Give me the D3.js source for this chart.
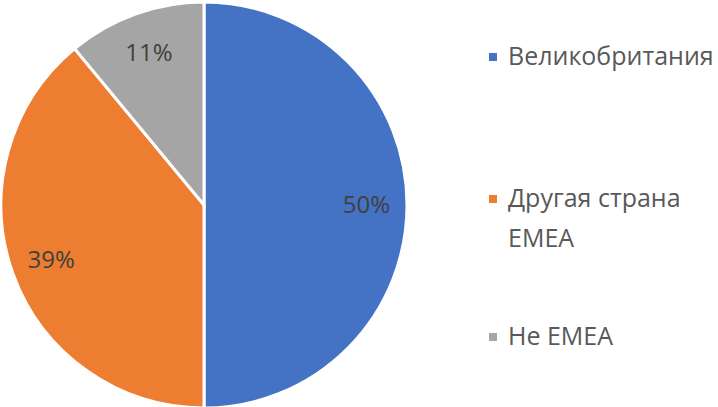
<!DOCTYPE html>
<html>
<head>
<meta charset="utf-8">
<script src="https://cdn.jsdelivr.net/npm/d3@7"></script>
<style>
  html, body { margin: 0; padding: 0; background: #fff; }
  svg { display: block; }
</style>
</head>
<body>
<svg id="chart"></svg>
<script>
var categories = ["Великобритания", "Другая страна EMEA", "Не EMEA"];
var legendLines = [["Великобритания"], ["Другая страна", "EMEA"], ["Не EMEA"]];
var values = [50, 39, 11];
var colors = ["#4472C4", "#ED7D31", "#A5A5A5"];

var width = 718, height = 407;
var svg = d3.select("#chart")
    .attr("width", width)
    .attr("height", height);

var radius = 203;
var g = svg.append("g")
    .attr("transform", "translate(204,205)");

var color = d3.scaleOrdinal()
    .domain(categories)
    .range(colors);

var pie = d3.pie()
    .sort(null)
    .value(d => d.value);

var data = categories.map((c, i) => ({ name: c, value: values[i] }));
var arcs = pie(data);

var arc = d3.arc()
    .innerRadius(0)
    .outerRadius(radius);

var labelArc = d3.arc()
    .innerRadius(radius * 0.8)
    .outerRadius(radius * 0.8);

g.selectAll("path")
    .data(arcs)
    .enter().append("path")
    .attr("d", arc)
    .attr("fill", d => color(d.data.name))
    .attr("stroke", "white")
    .attr("stroke-width", 3);

var total = d3.sum(values);
g.selectAll("text")
    .data(arcs)
    .enter().append("text")
    .attr("transform", d => `translate(${labelArc.centroid(d)})`)
    .attr("text-anchor", "middle")
    .attr("dy", "0.35em")
    .attr("font-family", "Open Sans, sans-serif")
    .attr("font-size", "24px")
    .attr("fill", "#404040")
    .text(d => Math.round(d.data.value / total * 100) + "%");

// legend
var legendY = d3.scaleOrdinal()
    .domain(categories)
    .range([57, 199, 337]);

var legend = svg.append("g");
var items = legend.selectAll("g")
    .data(categories)
    .enter().append("g")
    .attr("transform", d => `translate(489,${legendY(d)})`);

items.append("rect")
    .attr("x", 0)
    .attr("y", -4)
    .attr("width", 8)
    .attr("height", 8)
    .attr("fill", d => color(d));

items.append("text")
    .attr("x", 19)
    .attr("y", 0)
    .attr("font-family", "Open Sans, sans-serif")
    .attr("font-size", "25px")
    .attr("fill", "#595959")
    .selectAll("tspan")
    .data((d, i) => legendLines[i])
    .enter().append("tspan")
    .attr("x", 19)
    .attr("dy", (d, i) => i === 0 ? "0.3em" : "40px")
    .text(d => d);
</script>
</body>
</html>
